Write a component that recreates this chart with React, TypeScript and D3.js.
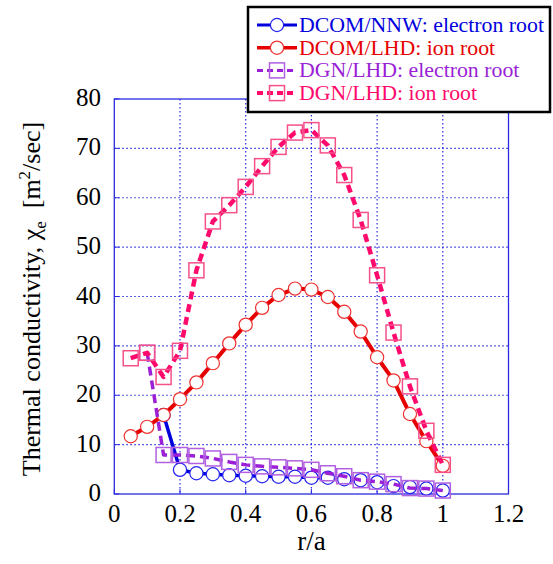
import React from "react";
import * as d3 from "d3";

// radius r/a and chi_e values
const blueR = [0.15, 0.2, 0.25, 0.3, 0.35, 0.4, 0.45, 0.5, 0.55, 0.6, 0.65, 0.7, 0.75, 0.8, 0.85, 0.9, 0.95, 1.0];
const blueV = [16.0, 4.9, 4.2, 4.0, 3.8, 3.7, 3.6, 3.5, 3.5, 3.3, 3.3, 3.0, 2.8, 2.4, 1.6, 1.4, 1.1, 0.7];

const redR = [0.05, 0.1, 0.15, 0.2, 0.25, 0.3, 0.35, 0.4, 0.45, 0.5, 0.55, 0.6, 0.65, 0.7, 0.75, 0.8, 0.85, 0.9, 0.95, 1.0];
const redV = [11.7, 13.6, 16.0, 19.2, 22.6, 26.5, 30.5, 34.3, 37.7, 40.3, 41.6, 41.4, 39.9, 36.9, 32.9, 27.7, 23.0, 16.2, 10.7, 5.7];

const purpleR = [0.1, 0.15, 0.2, 0.25, 0.3, 0.35, 0.4, 0.45, 0.5, 0.55, 0.6, 0.65, 0.7, 0.75, 0.8, 0.85, 0.9, 0.95, 1.0];
const purpleV = [28.6, 7.9, 7.9, 7.7, 7.2, 6.5, 5.9, 5.6, 5.4, 5.2, 4.9, 4.2, 3.6, 2.8, 2.5, 2.0, 1.2, 1.1, 0.7];

const pinkR = [0.05, 0.1, 0.15, 0.2, 0.25, 0.3, 0.35, 0.4, 0.45, 0.5, 0.55, 0.6, 0.65, 0.7, 0.75, 0.8, 0.85, 0.9, 0.95, 1.0];
const pinkV = [27.5, 28.6, 23.7, 29.0, 45.3, 55.2, 58.5, 62.2, 66.4, 70.3, 73.2, 73.7, 70.6, 64.6, 55.5, 44.3, 32.7, 21.8, 12.8, 5.9];

const xTicks = [0, 0.2, 0.4, 0.6, 0.8, 1, 1.2];
const yTicks = [0, 10, 20, 30, 40, 50, 60, 70, 80];

const seriesNames = [
  "DCOM/NNW: electron root",
  "DCOM/LHD: ion root",
  "DGN/LHD: electron root",
  "DGN/LHD: ion root",
];

const font = "Liberation Serif, DejaVu Serif, serif";

type Series = {
  name: string;
  r: number[];
  v: number[];
  color: string;
  markColor: string;
  width: number;
  dash?: string;
  marker: "circle" | "square";
};

const series: Series[] = [
  { name: seriesNames[0], r: blueR, v: blueV, color: "#0000dd", markColor: "#2222ee", width: 3.5, marker: "circle" },
  { name: seriesNames[1], r: redR, v: redV, color: "#e60000", markColor: "#f03030", width: 4, marker: "circle" },
  { name: seriesNames[2], r: purpleR, v: purpleV, color: "#9a1fd6", markColor: "#b060e0", width: 3.5, dash: "9,5", marker: "square" },
  { name: seriesNames[3], r: pinkR, v: pinkV, color: "#ff0a6c", markColor: "#f5508a", width: 4.5, dash: "8,5", marker: "square" },
];

const legendText = ["#0000dd", "#e60000", "#9a1fd6", "#ff0a6c"];

function Marker({ s, cx, cy }: { s: Series; cx: number; cy: number }) {
  if (s.marker === "circle") {
    return <circle cx={cx} cy={cy} r={6.6} fill="#fff" stroke={s.markColor} strokeWidth={1.2} />;
  }
  return <rect x={cx - 7.5} y={cy - 7.5} width={15} height={15} fill="none" stroke={s.markColor} strokeWidth={1.5} />;
}

export default function App() {
  const W = 553;
  const H = 564;
  const left = 114.3;
  const right = 508.5;
  const top = 99;
  const bottom = 494;

  const x = d3.scaleLinear().domain([0, 1.2]).range([left, right]);
  const y = d3.scaleLinear().domain([0, 80]).range([bottom, top]);

  const line = d3
    .line<[number, number]>()
    .x((d) => x(d[0]))
    .y((d) => y(d[1]));

  const gridBlue = "#2a2ae0";
  const txt = { fontFamily: font };

  return (
    <svg width={W} height={H} style={{ position: "absolute", left: 0, top: 0, fontFamily: font }}>
      <rect width={W} height={H} fill="#fff" />
      {/* grid */}
      {xTicks.slice(1, -1).map((t) => (
        <line key={"gx" + t} x1={x(t)} x2={x(t)} y1={top} y2={bottom} stroke={gridBlue} strokeWidth={1.2} strokeDasharray="1.5,2.5" />
      ))}
      {yTicks.slice(1, -1).map((t) => (
        <line key={"gy" + t} x1={left} x2={right} y1={y(t)} y2={y(t)} stroke={gridBlue} strokeWidth={1.2} strokeDasharray="1.5,2.5" />
      ))}
      {/* inward ticks */}
      {xTicks.map((t) => (
        <line key={"tx" + t} x1={x(t)} x2={x(t)} y1={bottom} y2={bottom - 5} stroke={gridBlue} strokeWidth={1} />
      ))}
      {yTicks.map((t) => (
        <line key={"ty" + t} x1={left} x2={left + 5} y1={y(t)} y2={y(t)} stroke={gridBlue} strokeWidth={1} />
      ))}
      <rect x={left} y={top} width={right - left} height={bottom - top} fill="none" stroke={gridBlue} strokeWidth={1.3} />

      {/* series */}
      {series.map((s) => {
        const pts = s.r.map((r, i) => [r, s.v[i]] as [number, number]);
        return (
          <g key={s.name}>
            <path d={line(pts) ?? ""} fill="none" stroke={s.color} strokeWidth={s.width} strokeDasharray={s.dash} strokeLinejoin="round" />
            {pts.map((p, i) => (
              <Marker key={i} s={s} cx={x(p[0])} cy={y(p[1])} />
            ))}
          </g>
        );
      })}

      {/* tick labels */}
      {xTicks.map((t) => (
        <text key={"lx" + t} x={x(t)} y={522} textAnchor="middle" fontSize={25} fill="#000" style={txt}>
          {String(t)}
        </text>
      ))}
      {yTicks.map((t) => (
        <text key={"ly" + t} x={101} y={y(t) + 7} textAnchor="end" fontSize={25} fill="#000" style={txt}>
          {String(t)}
        </text>
      ))}
      <text x={x(0.6)} y={550} textAnchor="middle" fontSize={27} fill="#000" style={txt}>r/a</text>
      <text transform={`translate(40,299) rotate(-90)`} textAnchor="middle" fontSize={26} fill="#000" style={txt}>
        Thermal conductivity, χ<tspan fontSize={17} dy={6}>e</tspan>
        <tspan dy={-6}>{"\u00a0 [m"}</tspan>
        <tspan fontSize={17} dy={-10}>2</tspan>
        <tspan dy={10}>/sec]</tspan>
      </text>

      {/* legend */}
      <rect x={248} y={7} width={302} height={105} fill="#fff" stroke="#000" strokeWidth={2.5} />
      {series.map((s, i) => {
        const ly = 25 + i * 22.7;
        return (
          <g key={"leg" + i}>
            <line x1={257} x2={297} y1={ly} y2={ly} stroke={s.color} strokeWidth={s.width - 0.5} strokeDasharray={s.dash ? "6,4" : undefined} />
            <Marker s={s} cx={277} cy={ly} />
            <text x={299} y={ly + 7} fontSize={21.8} fill={legendText[i]} style={txt}>
              {s.name}
            </text>
          </g>
        );
      })}
    </svg>
  );
}
